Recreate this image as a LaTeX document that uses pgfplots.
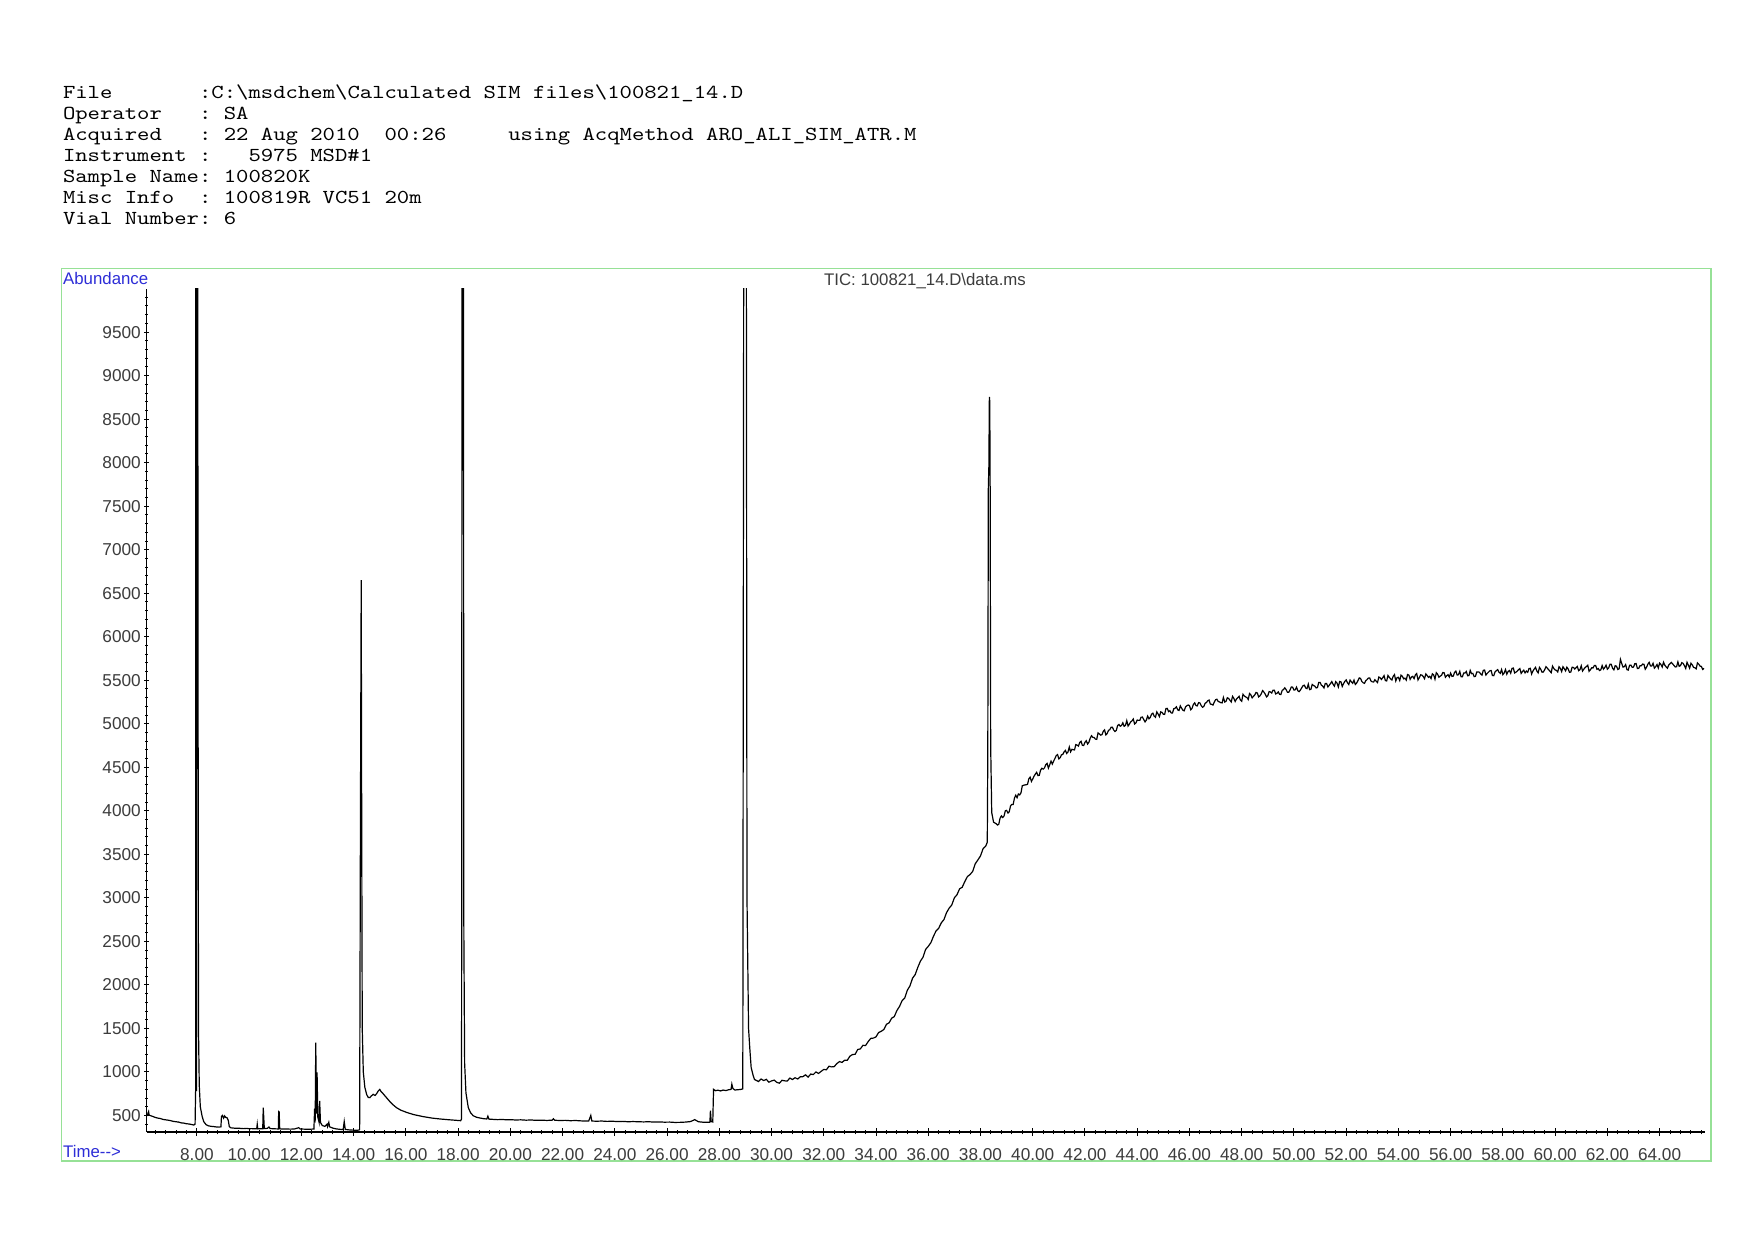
\documentclass[border=0pt]{standalone}
\usepackage{fontspec}
\usepackage{pgfplots}
\pgfplotsset{compat=1.18}
\newfontfamily\arial{Liberation Sans}
\newfontfamily\hdr[FakeStretch=1.19]{Latin Modern Mono}
\definecolor{boxgreen}{RGB}{150,225,150}
\definecolor{labblue}{RGB}{45,45,215}
\definecolor{tickgray}{RGB}{60,60,60}
\pgfplotsset{geom/.style={at={(73.25pt,-566pt)}, anchor=south west, scale only axis,
  width=779pt, height=421.7pt, xmin=6.07, xmax=65.72, ymin=310, ymax=10000,
  tick align=outside,
  every tick/.style={black, line width=0.5pt},
  /pgf/number format/assume math mode=true},
  noarrows/.style={axis line style={-, black, line width=0.6pt},
  x axis line style={-}, y axis line style={-},
  every outer x axis line/.append style={-}, every outer y axis line/.append style={-},
  every inner x axis line/.append style={-}, every inner y axis line/.append style={-}}}
\begin{document}
\begin{tikzpicture}
\fill[white] (0,0) rectangle (877pt,-620pt);
\draw[boxgreen, line width=0.7pt] (30.75pt,-134.25pt) rectangle (855.5pt,-580.5pt);
\begin{scope}[every node/.style={anchor=base west, inner sep=0pt, font=\hdr\fontsize{9.9}{10}\selectfont}]
\node at (31.3pt,-49.5pt) {File~~~~~~~:C:\textbackslash msdchem\textbackslash Calculated~SIM~files\textbackslash 100821\_14.D};
\node at (31.3pt,-59.94pt) {Operator~~~:~SA};
\node at (31.3pt,-70.38pt) {Acquired~~~:~22~Aug~2010~~00:26~~~~~using~AcqMethod~ARO\_ALI\_SIM\_ATR.M};
\node at (31.3pt,-80.82pt) {Instrument~:~~~5975~MSD\#1};
\node at (31.3pt,-91.26pt) {Sample~Name:~100820K};
\node at (31.3pt,-101.7pt) {Misc~Info~~:~100819R~VC51~20m};
\node at (31.3pt,-112.14pt) {Vial~Number:~6};
\end{scope}
\begin{axis}[geom,
  axis x line=bottom, axis y line=none, noarrows,
  xtick={8,10,...,64},
  minor xtick={6.4,6.8,...,65.6},
  major tick length=4pt, minor tick length=2.3pt,
  xticklabel style={font=\arial\fontsize{8.6}{10}\selectfont, text=tickgray, anchor=base, yshift=-12pt, inner sep=0pt,
    /pgf/number format/fixed, /pgf/number format/fixed zerofill, /pgf/number format/precision=2},
]
\addplot[black, line width=0.6pt] coordinates {
(6.08,516)(6.11,505)(6.13,530)(6.15,545)(6.17,505)(6.22,498)(6.3,490)(6.4,478)(6.5,470)(6.6,465)(6.7,455)(6.8,450)(6.9,446)(7.0,440)(7.1,432)(7.2,428)(7.3,424)(7.4,415)(7.5,412)(7.6,405)(7.7,402)(7.8,396)(7.88,390)(7.93,400)(7.95,780)(7.96,12000)(7.975,12000)(7.985,780)(8.0,12000)(8.035,12000)(8.04,4800)(8.05,4700)(8.06,1500)(8.09,850)(8.13,600)(8.2,490)(8.26,430)(8.35,395)(8.45,380)(8.55,375)(8.65,372)(8.75,368)(8.85,366)(8.92,370)(8.94,490)(8.98,500)(9.02,470)(9.06,495)(9.1,478)(9.15,475)(9.2,445)(9.24,372)(9.3,358)(9.4,355)(9.5,352)(9.6,354)(9.7,350)(9.8,349)(9.9,352)(10.0,348)(10.1,349)(10.2,347)(10.29,348)(10.31,400)(10.33,346)(10.45,348)(10.52,347)(10.54,590)(10.56,470)(10.58,350)(10.7,352)(10.76,368)(10.8,350)(10.95,347)(11.05,346)(11.12,345)(11.13,545)(11.15,540)(11.17,346)(11.3,345)(11.45,344)(11.6,343)(11.75,346)(11.9,360)(11.95,345)(12.1,343)(12.25,342)(12.4,343)(12.48,345)(12.5,525)(12.53,480)(12.55,1338)(12.58,520)(12.6,994)(12.63,480)(12.68,420)(12.7,668)(12.73,420)(12.8,385)(12.9,375)(12.98,400)(13.0,372)(13.05,420)(13.08,370)(13.2,355)(13.35,345)(13.5,340)(13.6,338)(13.64,430)(13.68,340)(13.8,335)(13.95,332)(14.1,330)(14.2,332)(14.23,340)(14.24,1500)(14.26,3800)(14.29,6650)(14.31,3780)(14.33,1500)(14.37,1000)(14.43,822)(14.5,740)(14.56,707)(14.62,705)(14.68,725)(14.75,743)(14.82,730)(14.88,750)(14.95,785)(15.0,800)(15.05,775)(15.1,760)(15.2,725)(15.3,690)(15.4,655)(15.5,625)(15.64,590)(15.8,562)(16.03,535)(16.3,510)(16.66,487)(17.0,470)(17.3,460)(17.6,452)(17.9,445)(18.1,440)(18.13,460)(18.14,3500)(18.15,12000)(18.2,12000)(18.22,2600)(18.25,1100)(18.3,760)(18.39,590)(18.48,530)(18.58,497)(18.7,480)(18.85,470)(19.0,462)(19.1,460)(19.14,492)(19.18,458)(19.35,455)(19.5,452)(19.7,454)(19.86,450)(20.0,452)(20.2,448)(20.4,450)(20.6,446)(20.8,448)(21.0,444)(21.2,446)(21.4,443)(21.6,446)(21.65,462)(21.7,445)(21.9,442)(22.1,444)(22.3,440)(22.5,442)(22.7,438)(22.9,436)(23.0,436)(23.08,500)(23.12,436)(23.3,434)(23.5,436)(23.7,432)(23.9,434)(24.1,430)(24.3,432)(24.5,428)(24.7,430)(24.9,428)(25.1,426)(25.3,428)(25.5,424)(25.7,426)(25.9,423)(26.1,424)(26.3,420)(26.5,421)(26.7,424)(26.9,430)(27.06,452)(27.2,428)(27.4,422)(27.6,421)(27.64,423)(27.66,555)(27.69,430)(27.75,425)(27.78,800)(27.85,785)(27.95,790)(28.05,782)(28.15,792)(28.25,786)(28.35,795)(28.45,800)(28.48,860)(28.52,810)(28.6,792)(28.7,796)(28.8,798)(28.9,805)(28.94,12000)(29.03,12000)(29.06,3000)(29.12,1500)(29.17,1261)(29.22,1050)(29.3,955)(29.35,912)
(29.4,906)(29.5,890)(29.6,919)(29.7,901)(29.8,915)(29.9,882)(30.0,897)(30.1,906)(30.2,881)(30.3,871)(30.4,904)(30.5,898)(30.6,895)(30.7,930)(30.8,913)(30.9,934)(31.0,919)(31.1,944)(31.2,946)(31.3,967)(31.4,941)(31.5,976)(31.6,970)(31.7,1000)(31.8,983)(31.9,1007)(32.0,1029)(32.1,1025)(32.2,1066)(32.3,1058)(32.4,1061)(32.5,1096)(32.6,1119)(32.7,1110)(32.8,1135)(32.9,1134)(33.0,1181)(33.1,1200)(33.2,1203)(33.3,1258)(33.4,1265)(33.5,1306)(33.6,1304)(33.7,1349)(33.8,1386)(33.9,1389)(34.0,1403)(34.1,1453)(34.2,1467)(34.3,1488)(34.4,1548)(34.5,1564)(34.6,1618)(34.7,1636)(34.8,1706)(34.9,1753)(35.0,1820)(35.1,1850)(35.2,1939)(35.3,1989)(35.4,2078)(35.5,2119)(35.6,2202)(35.7,2273)(35.8,2318)(35.9,2408)(36.0,2443)(36.1,2485)(36.2,2559)(36.3,2621)(36.4,2651)(36.5,2714)(36.6,2750)(36.7,2830)(36.8,2882)(36.9,2918)(37.0,3001)(37.1,3036)(37.2,3104)(37.3,3122)(37.4,3188)(37.5,3245)(37.6,3268)(37.7,3304)(37.8,3392)(37.9,3436)(38.0,3482)(38.1,3566)(38.2,3594)(38.26,3640)(38.28,4700)(38.3,7700)(38.32,7950)(38.34,8756)(38.355,8700)(38.37,7700)(38.39,4740)(38.43,3980)(38.5,3870)
(38.6,3852)(38.65,3837)(38.7,3846)(38.75,3916)(38.8,3942)(38.85,3923)(38.9,3940)(38.95,4000)(39.0,4005)(39.05,3975)(39.1,3989)(39.15,4057)(39.2,4074)(39.25,4072)(39.3,4146)(39.35,4180)(39.4,4151)(39.45,4193)(39.5,4183)(39.55,4206)(39.6,4288)(39.65,4294)(39.7,4297)(39.75,4300)(39.8,4304)(39.85,4367)(39.9,4387)(39.95,4338)(40.0,4366)(40.05,4398)(40.1,4422)(40.15,4442)(40.2,4405)(40.25,4408)(40.3,4467)(40.35,4489)(40.4,4479)(40.45,4493)(40.5,4531)(40.55,4545)(40.6,4491)(40.65,4529)(40.7,4571)(40.75,4537)(40.8,4571)(40.85,4601)(40.9,4635)(40.95,4646)(41.0,4597)(41.05,4610)(41.1,4643)(41.15,4648)(41.2,4677)(41.25,4694)(41.3,4659)(41.35,4676)(41.4,4733)(41.45,4678)(41.5,4707)(41.55,4702)(41.6,4700)(41.65,4761)(41.7,4755)(41.75,4744)(41.8,4786)(41.85,4799)(41.9,4753)(41.95,4750)(42.0,4788)(42.05,4805)(42.1,4767)(42.15,4788)(42.2,4834)(42.25,4863)(42.3,4845)(42.35,4842)(42.4,4824)(42.45,4821)(42.5,4895)(42.55,4884)(42.6,4870)(42.65,4875)(42.7,4913)(42.75,4930)(42.8,4872)(42.85,4888)(42.9,4925)(42.95,4932)(43.0,4960)(43.05,4960)(43.1,4928)(43.15,4912)(43.2,4924)(43.25,4980)(43.3,4992)(43.35,4972)(43.4,4980)(43.45,5011)(43.5,4971)(43.55,4981)(43.6,5036)(43.65,4974)(43.7,4996)(43.75,5022)(43.8,5033)(43.85,5055)(43.9,4998)(43.95,5010)(44.0,5043)(44.05,5039)(44.1,5040)(44.15,5076)(44.2,5077)(44.25,5049)(44.3,5022)(44.35,5043)(44.4,5088)(44.45,5058)(44.5,5073)(44.55,5111)(44.6,5122)(44.65,5088)(44.7,5075)(44.75,5137)(44.8,5112)(44.85,5082)(44.9,5137)(44.95,5131)(45.0,5110)(45.05,5108)(45.1,5175)(45.15,5177)(45.2,5140)(45.25,5150)(45.3,5125)(45.35,5123)(45.4,5173)(45.45,5178)(45.5,5195)(45.55,5160)(45.6,5153)(45.65,5206)(45.7,5179)(45.75,5156)(45.8,5149)(45.85,5194)(45.9,5207)(45.95,5216)(46.0,5209)(46.05,5161)(46.1,5178)(46.15,5223)(46.2,5240)(46.25,5209)(46.3,5206)(46.35,5243)(46.4,5240)(46.45,5209)(46.5,5190)(46.55,5199)(46.6,5236)(46.65,5244)(46.7,5265)(46.75,5273)(46.8,5226)(46.85,5224)(46.9,5215)(46.95,5249)(47.0,5276)(47.05,5282)(47.1,5257)(47.15,5251)(47.2,5242)(47.25,5240)(47.3,5302)(47.35,5250)(47.4,5259)(47.45,5299)(47.5,5291)(47.55,5271)(47.6,5251)(47.65,5315)(47.7,5292)(47.75,5256)(47.8,5284)(47.85,5300)(47.9,5316)(47.95,5273)(48.0,5258)(48.05,5339)(48.1,5320)(48.15,5309)(48.2,5302)(48.25,5279)(48.3,5348)(48.35,5333)(48.4,5298)(48.45,5315)(48.5,5332)(48.55,5360)(48.6,5353)(48.65,5309)(48.7,5321)(48.75,5345)(48.8,5381)(48.85,5365)(48.9,5341)(48.95,5309)(49.0,5322)(49.05,5370)(49.1,5366)(49.15,5354)(49.2,5386)(49.25,5386)(49.3,5343)(49.35,5351)(49.4,5367)(49.45,5339)(49.5,5336)(49.55,5384)(49.6,5393)(49.65,5413)(49.7,5393)(49.75,5363)(49.8,5362)(49.85,5388)(49.9,5423)(49.95,5421)(50.0,5388)(50.05,5390)(50.1,5421)(50.15,5379)(50.2,5369)(50.25,5389)(50.3,5414)(50.35,5438)(50.4,5443)(50.45,5411)(50.5,5404)(50.55,5456)(50.6,5392)(50.65,5396)(50.7,5452)(50.75,5440)(50.8,5432)(50.85,5412)(50.9,5416)(50.95,5476)(51.0,5476)(51.05,5444)(51.1,5433)(51.15,5412)(51.2,5464)(51.25,5463)(51.3,5423)(51.35,5442)(51.4,5462)(51.45,5485)(51.5,5453)(51.55,5432)(51.6,5484)(51.65,5467)(51.7,5423)(51.75,5486)(51.8,5482)(51.85,5429)(51.9,5461)(51.95,5488)(52.0,5504)(52.05,5471)(52.1,5451)(52.15,5502)(52.2,5482)(52.25,5465)(52.3,5501)(52.35,5452)(52.4,5468)(52.45,5495)(52.5,5527)(52.55,5522)(52.6,5486)(52.65,5471)(52.7,5465)(52.75,5494)(52.8,5508)(52.85,5525)(52.9,5527)(52.95,5492)(53.0,5482)(53.05,5480)(53.1,5506)(53.15,5490)(53.2,5474)(53.25,5537)(53.3,5529)(53.35,5509)(53.4,5529)(53.45,5553)(53.5,5497)(53.55,5492)(53.6,5555)(53.65,5534)(53.7,5517)(53.75,5503)(53.8,5546)(53.85,5565)(53.9,5492)(53.95,5531)(54.0,5534)(54.05,5497)(54.1,5559)(54.15,5546)(54.2,5517)(54.25,5524)(54.3,5502)(54.35,5566)(54.4,5560)(54.45,5511)(54.5,5537)(54.55,5545)(54.6,5519)(54.65,5562)(54.7,5577)(54.75,5504)(54.8,5530)(54.85,5562)(54.9,5560)(54.95,5543)(55.0,5518)(55.05,5573)(55.1,5555)(55.15,5534)(55.2,5545)(55.25,5520)(55.3,5574)(55.35,5562)(55.4,5512)(55.45,5587)(55.5,5570)(55.55,5535)(55.6,5547)(55.65,5556)(55.7,5589)(55.75,5586)(55.8,5535)(55.85,5552)(55.9,5564)(55.95,5537)(56.0,5582)(56.05,5545)(56.1,5548)(56.15,5591)(56.2,5605)(56.25,5560)(56.3,5563)(56.35,5602)(56.4,5541)(56.45,5540)(56.5,5583)(56.55,5582)(56.6,5601)(56.65,5552)(56.7,5554)(56.75,5613)(56.8,5576)(56.85,5579)(56.9,5542)(56.95,5545)(57.0,5596)(57.05,5595)(57.1,5593)(57.15,5572)(57.2,5559)(57.25,5614)(57.3,5617)(57.35,5560)(57.4,5579)(57.45,5594)(57.5,5609)(57.55,5612)(57.6,5554)(57.65,5553)(57.7,5596)(57.75,5611)(57.8,5622)(57.85,5593)(57.9,5580)(57.95,5623)(58.0,5565)(58.05,5584)(58.1,5623)(58.15,5570)(58.2,5601)(58.25,5612)(58.3,5582)(58.35,5637)(58.4,5640)(58.45,5584)(58.5,5593)(58.55,5605)(58.6,5622)(58.65,5634)(58.7,5579)(58.75,5600)(58.8,5616)(58.85,5585)(58.9,5606)(58.95,5592)(59.0,5635)(59.05,5637)(59.1,5572)(59.15,5606)(59.2,5629)(59.25,5648)(59.3,5606)(59.35,5585)(59.4,5648)(59.45,5626)(59.5,5593)(59.55,5595)(59.6,5622)(59.65,5656)(59.7,5639)(59.75,5622)(59.8,5604)(59.85,5587)(59.9,5662)(59.95,5636)(60.0,5619)(60.05,5613)(60.1,5596)(60.15,5655)(60.2,5637)(60.25,5600)(60.3,5655)(60.35,5633)(60.4,5608)(60.45,5650)(60.5,5629)(60.55,5592)(60.6,5594)(60.65,5649)(60.7,5648)(60.75,5630)(60.8,5645)(60.85,5659)(60.9,5610)(60.95,5621)(61.0,5667)(61.05,5606)(61.1,5628)(61.15,5647)(61.2,5658)(61.25,5672)(61.3,5603)(61.35,5620)(61.4,5644)(61.45,5641)(61.5,5669)(61.55,5670)(61.6,5626)(61.65,5635)(61.7,5612)(61.75,5620)(61.8,5669)(61.85,5628)(61.9,5646)(61.95,5673)(62.0,5627)(62.05,5642)(62.1,5684)(62.15,5683)(62.2,5638)(62.25,5620)(62.3,5667)(62.35,5662)(62.4,5624)(62.45,5631)(62.5,5740)(62.55,5692)(62.6,5651)(62.65,5657)(62.7,5680)(62.75,5622)(62.8,5617)(62.85,5672)(62.9,5674)(62.95,5649)(63.0,5651)(63.05,5690)(63.1,5692)(63.15,5635)(63.2,5637)(63.25,5668)(63.3,5666)(63.35,5686)(63.4,5684)(63.45,5627)(63.5,5649)(63.55,5684)(63.6,5706)(63.65,5665)(63.7,5663)(63.75,5694)(63.8,5640)(63.85,5656)(63.9,5681)(63.95,5641)(64.0,5698)(64.05,5682)(64.1,5652)(64.15,5707)(64.2,5673)(64.25,5654)(64.3,5638)(64.35,5676)(64.4,5691)(64.45,5705)(64.5,5688)(64.55,5670)(64.6,5653)(64.65,5655)(64.7,5711)(64.75,5660)(64.8,5668)(64.85,5702)(64.9,5694)(64.95,5668)(65.0,5636)(65.05,5706)(65.1,5674)(65.15,5639)(65.2,5696)(65.25,5677)(65.3,5649)(65.35,5643)(65.4,5631)(65.45,5700)(65.5,5685)(65.55,5662)(65.6,5659)(65.65,5624)(65.7,5637)
};
\end{axis}
\begin{axis}[geom,
  axis y line=left, axis x line=none, noarrows,
  ytick={500,1000,...,9500},
  minor ytick={400,500,...,9900},
  major tick length=2.2pt, minor tick length=1.1pt,
  scaled y ticks=false,
  yticklabel style={font=\arial\fontsize{8.6}{10}\selectfont, text=tickgray, anchor=east, inner sep=0pt, xshift=-1.6pt,
    /pgf/number format/1000 sep={}},
]
\end{axis}
\node[anchor=base west, inner sep=0pt, font=\arial\fontsize{8.4}{10}\selectfont, text=labblue] at (31.4pt,-142.3pt) {Abundance};
\node[anchor=base west, inner sep=0pt, font=\arial\fontsize{8.4}{10}\selectfont, text=labblue] at (31.4pt,-578.5pt) {Time-\kern0pt-\kern0pt>};
\node[anchor=base, inner sep=0pt, font=\arial\fontsize{8.4}{10}\selectfont, text=tickgray] at (462.5pt,-142.6pt) {TIC: 100821\_14.D\textbackslash data.ms};
\end{tikzpicture}
\end{document}
